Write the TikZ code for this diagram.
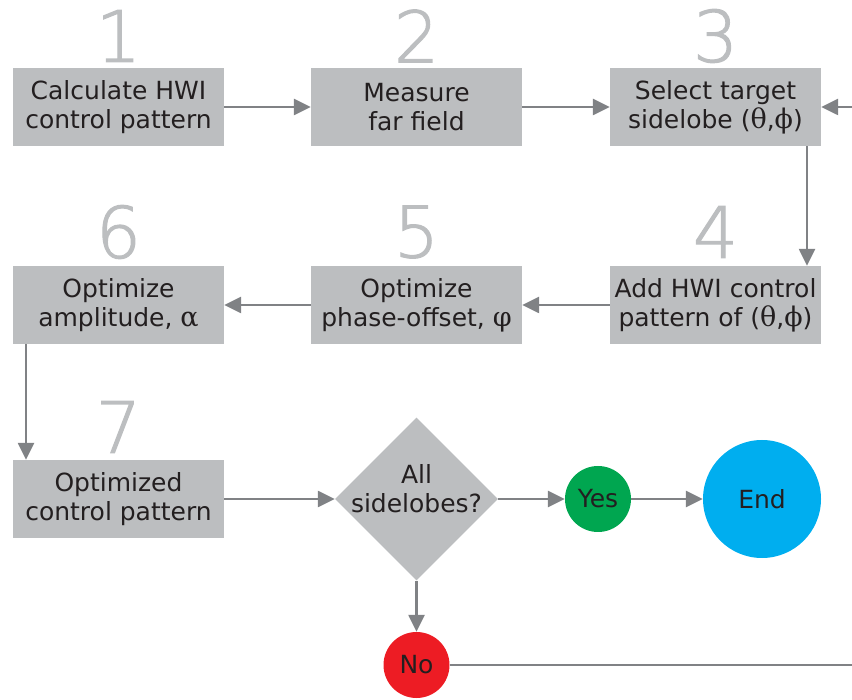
\documentclass[tikz,border=0pt]{standalone}
\usepackage{fontspec}
\setmainfont{DejaVu Sans}
\newfontfamily\greekfont{DejaVu Serif}
\newfontfamily\numfont[FakeBold=1.6]{DejaVu Sans ExtraLight}
\usetikzlibrary{shapes.geometric,arrows.meta}
\definecolor{boxgray}{HTML}{BCBEC0}
\definecolor{linegray}{HTML}{808285}
\definecolor{txt}{HTML}{231F20}
\definecolor{yesgreen}{HTML}{00A650}
\definecolor{endblue}{HTML}{00AEEF}
\definecolor{nored}{HTML}{ED1C24}
\newcommand{\grk}[1]{{\greekfont\fontsize{27}{29}\selectfont #1}}
\tikzset{
  box/.style={fill=boxgray, text=txt, align=center, minimum width=211pt,
    minimum height=78pt, inner sep=0pt, font=\fontsize{25}{29}\selectfont},
  num/.style={text=boxgray, font=\numfont\fontsize{71}{71}\selectfont, inner sep=0pt},
  decision/.style={diamond, fill=boxgray, minimum width=163pt,
    minimum height=163pt, inner sep=0pt},
  answer/.style={circle, text=txt, inner sep=0pt, font=\fontsize{25}{29}\selectfont},
  arrow/.style={draw=linegray, line width=2.5pt,
    -{Triangle[length=17pt,width=16pt]}},
  line/.style={draw=linegray, line width=2.5pt}
}
\begin{document}
\begin{tikzpicture}[x=1pt, y=-1pt]
    \useasboundingbox (0,0) rectangle (852,700);
    \node (calc) [box] at (118.5,107) {Calculate HWI\\control pattern};
    \node (meas) [box, node distance=298pt, right of=calc] {Measure\\far field};
    \node (sel) [box, node distance=299pt, right of=meas] {Select target\\sidelobe (\grk{θ},\grk{ϕ})};
    \node (add) [box, node distance=198pt, below of=sel] {Add HWI control\\pattern of (\grk{θ},\grk{ϕ})};
    \node (phase) [box, node distance=299pt, left of=add] {Optimize\\phase-offset, \grk{φ}};
    \node (ampl) [box, node distance=298pt, left of=phase] {Optimize\\amplitude, \grk{α}};
    \node (opt) [box, node distance=194pt, below of=ampl] {Optimized\\control pattern};
    \node (all) [decision, label={[text=txt, align=center, yshift=10pt,
      font=\fontsize{25}{29}\selectfont]center:All\\sidelobes?}] at (416.5,499) {};
    \node (yes) [answer, fill=yesgreen, minimum size=66pt, node distance=181.5pt, right of=all] {Yes};
    \node (end) [answer, fill=endblue, minimum size=118pt, node distance=164pt, right of=yes] {End};
    \node (no) [answer, fill=nored, minimum size=66pt, node distance=166pt, below of=all] {No};
    \node [num, node distance=71pt, above of=calc] {1};
    \node [num, node distance=71pt, above of=meas] {2};
    \node [num, node distance=71pt, above of=sel] {3};
    \node [num, node distance=73pt, above of=add] {4};
    \node [num, node distance=73pt, above of=phase] {5};
    \node [num, node distance=73pt, above of=ampl] {6};
    \node [num, node distance=72pt, above of=opt] {7};
    \coordinate (selin) at (852,107);
    \coordinate (noout) at (852,665);
    \draw[arrow] (calc) to (meas);
    \draw[arrow] (meas) to (sel);
    \draw[arrow] (selin) to (sel);
    \draw[arrow] ([xshift=91.5pt]sel.south) to ([xshift=91.5pt]add.north);
    \draw[arrow] (add) to (phase);
    \draw[arrow] (phase) to (ampl);
    \draw[arrow] ([xshift=-92.5pt]ampl.south) to ([xshift=-92.5pt]opt.north);
    \draw[arrow] (opt) to (all);
    \draw[arrow] (all) to (yes);
    \draw[arrow] (yes) to (end);
    \draw[arrow] (all) to (no);
    \draw[line] (no) to (noout);
  \end{tikzpicture}
\end{document}
